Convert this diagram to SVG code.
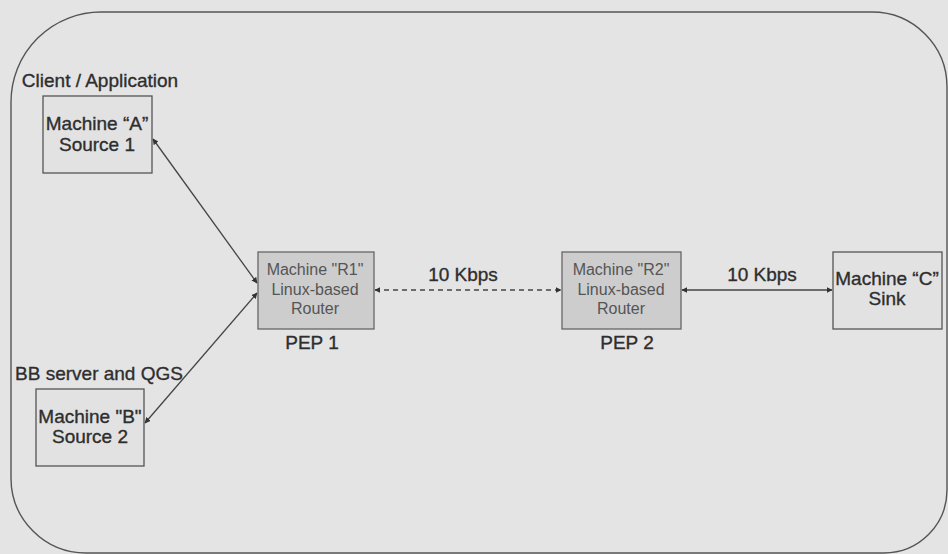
<svg xmlns="http://www.w3.org/2000/svg" width="948" height="554" viewBox="0 0 948 554">
<defs>
<style>
text{font-family:"Liberation Sans",Arial,sans-serif;fill:#2e2e2e;text-anchor:middle}
.lbl{font-size:19px;stroke:#2e2e2e;stroke-width:0.35}
.big{font-size:19px;stroke:#2e2e2e;stroke-width:0.35}
.rt{font-size:16px;fill:#555}
.box{fill:#e2e2e2;stroke:#555;stroke-width:1.3}
.rbox{fill:#cdcdcd;stroke:#666;stroke-width:1.3}
.ln{stroke:#444;stroke-width:1.3;fill:none}
</style>
<marker id="ah" viewBox="0 0 10 10" refX="9" refY="5" markerWidth="6" markerHeight="6" orient="auto-start-reverse" markerUnits="userSpaceOnUse">
<path d="M0,0 L10,5 L0,10 z" fill="#333"/>
</marker>
</defs>
<rect width="948" height="554" fill="#e4e4e4"/>
<g id="frame">
<path d="M102,12 H872 A75,75 0 0 1 947,87 V490 A63,63 0 0 1 884,553 H86 A75,75 0 0 1 11,478 V102 A90,90 0 0 1 102,12 Z" fill="none" stroke="#555" stroke-width="1.4"/>
</g>
<g id="connectors">
<line class="ln" x1="153" y1="139" x2="257" y2="283" marker-start="url(#ah)" marker-end="url(#ah)"/>
<line class="ln" x1="145" y1="423" x2="257" y2="293" marker-start="url(#ah)" marker-end="url(#ah)"/>
<line class="ln" x1="375" y1="290" x2="561" y2="290" stroke-dasharray="5,4" marker-start="url(#ah)" marker-end="url(#ah)"/>
<line class="ln" x1="682" y1="290" x2="832" y2="290" marker-start="url(#ah)" marker-end="url(#ah)"/>
<text class="big" x="463" y="281">10 Kbps</text>
<text class="big" x="762" y="281">10 Kbps</text>
</g>
<g id="machineA">
<text class="lbl" x="100" y="87">Client / Application</text>
<rect class="box" x="43" y="96" width="109" height="77"/>
<text class="lbl" x="97" y="130">Machine “A”</text>
<text class="lbl" x="97" y="151">Source 1</text>
</g>
<g id="machineB">
<text class="lbl" x="99" y="380">BB server and QGS</text>
<rect class="box" x="36" y="389" width="108" height="77"/>
<text class="lbl" x="90" y="423">Machine "B"</text>
<text class="lbl" x="90" y="443">Source 2</text>
</g>
<g id="machineR1">
<rect class="rbox" x="258" y="252" width="116" height="77"/>
<text class="rt" x="315" y="275">Machine "R1"</text>
<text class="rt" x="315" y="295">Linux-based</text>
<text class="rt" x="315" y="314">Router</text>
<text class="big" x="312" y="349">PEP 1</text>
</g>
<g id="machineR2">
<rect class="rbox" x="562" y="252" width="119" height="77"/>
<text class="rt" x="621" y="275">Machine "R2"</text>
<text class="rt" x="621" y="295">Linux-based</text>
<text class="rt" x="621" y="314">Router</text>
<text class="big" x="627" y="349">PEP 2</text>
</g>
<g id="machineC">
<rect class="box" x="833" y="252" width="109" height="77"/>
<text class="lbl" x="887" y="285">Machine “C”</text>
<text class="lbl" x="887" y="305">Sink</text>
</g>
</svg>
